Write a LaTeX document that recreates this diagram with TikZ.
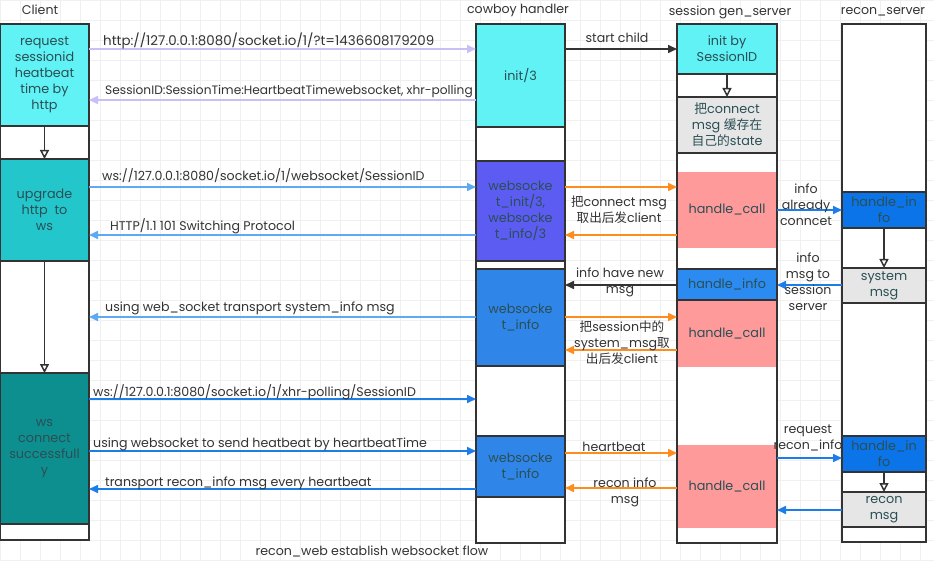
\documentclass[tikz,border=0pt]{standalone}
\usepackage{fontspec}
\setmainfont{Poppins}
\newfontfamily\cjk{Noto Sans CJK SC}
\newcommand\zh[1]{{\cjk #1}}
\usetikzlibrary{arrows.meta}
\definecolor{cyanbox}{HTML}{60F2F5}
\definecolor{tealA}{HTML}{22C6CB}
\definecolor{tealB}{HTML}{0E8F8F}
\definecolor{violet}{HTML}{5C5CF2}
\definecolor{wsblue}{HTML}{2F86E8}
\definecolor{hiblue}{HTML}{2B8BF0}
\definecolor{rblue}{HTML}{0B74E8}
\definecolor{pinkbox}{HTML}{FF9A9A}
\definecolor{graybox}{HTML}{E6E6E6}
\definecolor{lav}{HTML}{C8C0F4}
\definecolor{lblue}{HTML}{5EA9F2}
\definecolor{dblue}{HTML}{1C7CE8}
\definecolor{orng}{HTML}{FF8C1E}
\definecolor{dk}{HTML}{333333}
\definecolor{boxtext}{HTML}{2A4F55}
\tikzset{
  col/.style={draw=dk, line width=1.5pt, fill=white, anchor=north west, inner sep=0pt, outer sep=0pt},
  blk/.style={draw=dk, line width=1.5pt, anchor=north west, inner sep=0pt, outer sep=0pt,
              text=boxtext, align=center, font=\fontsize{12.8}{16}\selectfont},
  pk/.style={fill=pinkbox, anchor=north west, inner sep=0pt, outer sep=0pt,
              text=boxtext, align=center, font=\fontsize{12.8}{16}\selectfont},
  msg/.style={line width=1.6pt, -{Triangle[length=9pt,width=8pt]}},
  hol/.style={draw=dk, line width=1.5pt, -{Triangle[open,length=9pt,width=9pt]}},
  lbl/.style={text=dk, font=\fontsize{12.6}{16}\selectfont, inner sep=0pt},
  hdr/.style={text=dk, font=\fontsize{12.6}{14}\selectfont, inner sep=0pt},
}
\begin{document}
\begin{tikzpicture}[x=1pt,y=-1pt]
\useasboundingbox (0,0) rectangle (934,561);
\fill[white] (0,0) rectangle (934,561);
\draw[black!6, step=20pt] (0,0) grid (934,561);

% headers
\node[hdr] (hclient) at (40,10) {Client};
\node[hdr] (hcow) at (518,10) {cowboy handler};
\node[hdr] (hses) at (730,12) {session gen\_server};
\node[hdr] (hrec) at (883,12) {recon\_server};

% columns
\node[col, minimum width=89pt, minimum height=516pt] (ccol) at (0,24) {};
\node[col, minimum width=89pt, minimum height=519pt] (wcol) at (476,24) {};
\node[col, minimum width=100pt, minimum height=519pt] (scol) at (677,24) {};
\node[col, minimum width=84pt, minimum height=518pt] (rcol) at (842,24) {};

% client boxes
\node[blk, fill=cyanbox, minimum width=89pt, minimum height=102pt] (creq) at (0,24) {request\\sessionid\\heatbeat\\time by\\http};
\node[blk, fill=tealA, minimum width=89pt, minimum height=102pt] (cup) at (0,159) {upgrade\\http~ to\\ws};
\node[blk, fill=tealB, minimum width=89pt, minimum height=151pt] (cws) at (0,373) {ws\\connect\\successfull\\y};
\draw[hol] (creq.south) -- (cup.north);
\draw[hol] (cup.south) -- (cws.north);

% cowboy boxes
\node[blk, fill=cyanbox, minimum width=89pt, minimum height=103pt] (winit) at (476,24) {init/3};
\node[blk, fill=violet, minimum width=89pt, minimum height=100pt] (wwsi) at (476,161) {websocke\\t\_init/3,\\websocke\\t\_info/3};
\node[blk, fill=wsblue, minimum width=89pt, minimum height=97pt] (winfo) at (476,269) {websocke\\t\_info};
\node[blk, fill=wsblue, minimum width=89pt, minimum height=61pt] (winfob) at (476,436) {websocke\\t\_info};

% session boxes
\node[blk, fill=cyanbox, minimum width=100pt, minimum height=50pt] (sinit) at (677,24) {init by\\SessionID};
\node[blk, fill=graybox, minimum width=100pt, minimum height=56pt] (sgray) at (677,97) {\zh{把}connect\\msg \zh{缓存在}\\\zh{自己的}state};
\draw[hol] (sinit.south) -- (sgray.north);
\node[pk, minimum width=98pt, minimum height=76pt] (shc) at (678,172) {handle\_call};
\node[blk, fill=hiblue, minimum width=100pt, minimum height=31pt] (shi) at (677,269) {handle\_info};
\node[pk, minimum width=98pt, minimum height=66pt] (shcb) at (678,301) {handle\_call};
\node[pk, minimum width=98pt, minimum height=83pt] (shcc) at (678,445) {handle\_call};

% recon boxes
\node[blk, fill=rblue, minimum width=84pt, minimum height=36pt] (rhi) at (842,192) {handle\_in\\fo};
\node[blk, fill=graybox, minimum width=84pt, minimum height=35pt] (rsys) at (842,268) {system\\msg};
\draw[hol] (rhi.south) -- (rsys.north);
\node[blk, fill=rblue, minimum width=84pt, minimum height=36pt] (rhib) at (842,436) {handle\_in\\fo};
\node[blk, fill=graybox, minimum width=84pt, minimum height=35pt] (rmsg) at (842,492) {recon\\msg};
\draw[hol] (rhib.south) -- (rmsg.north);

% client <-> cowboy messages
\draw[msg, draw=lav] (ccol.east |- 0,49) -- (wcol.west |- 0,49);
\node[lbl, anchor=base west, font=\fontsize{13.4}{16}\selectfont] (l1) at (103,46) {http://127.0.0.1:8080/socket.io/1/?t=1436608179209};
\draw[msg, draw=lav] (wcol.west |- 0,100) -- (ccol.east |- 0,100);
\node[lbl, anchor=base west, font=\fontsize{12.2}{16}\selectfont] (l2) at (105,95) {SessionID:SessionTime:HeartbeatTimewebsocket, xhr-polling};
\draw[msg, draw=lblue] (ccol.east |- 0,187) -- (wcol.west |- 0,187);
\node[lbl, anchor=base west] (l3) at (102,181) {ws://127.0.0.1:8080/socket.io/1/websocket/SessionID};
\draw[msg, draw=lblue] (wcol.west |- 0,235) -- (ccol.east |- 0,235);
\node[lbl, anchor=base west] (l4) at (110,231) {HTTP/1.1 101 Switching Protocol};
\draw[msg, draw=lblue] (wcol.west |- 0,317) -- (ccol.east |- 0,317);
\node[lbl, anchor=base west] (l5) at (105,312) {using web\_socket transport system\_info msg};
\draw[msg, draw=dblue] (ccol.east |- 0,399) -- (wcol.west |- 0,399);
\node[lbl, anchor=base west] (l6) at (93,396) {ws://127.0.0.1:8080/socket.io/1/xhr-polling/SessionID};
\draw[msg, draw=dblue] (ccol.east |- 0,451) -- (wcol.west |- 0,451);
\node[lbl, anchor=base west] (l7) at (93,447) {using websocket to send heatbeat by heartbeatTime};
\draw[msg, draw=dblue] (wcol.west |- 0,489) -- (ccol.east |- 0,489);
\node[lbl, anchor=base west] (l8) at (105,486) {transport recon\_info msg every heartbeat};

% cowboy <-> session
\draw[msg, draw=dk] (wcol.east |- 0,49) -- (scol.west |- 0,49);
\node[lbl, anchor=base] (l9) at (617,43) {start child};
\draw[msg, draw=orng] (wcol.east |- 0,187) -- (scol.west |- 0,187);
\draw[msg, draw=orng] (scol.west |- 0,235) -- (wcol.east |- 0,235);
\node[lbl, align=center] (l10) at (619,210) {\zh{把}connect msg\\\zh{取出后发}client};
\draw[msg, draw=dk] (scol.west |- 0,285) -- (wcol.east |- 0,285);
\node[lbl, align=center] (l11) at (620,282) {info have new\\msg};
\draw[msg, draw=orng] (wcol.east |- 0,317) -- (scol.west |- 0,317);
\draw[msg, draw=orng] (scol.west |- 0,350) -- (wcol.east |- 0,350);
\node[lbl, align=center] (l12) at (622,343) {\zh{把}session\zh{中的}\\system\_msg\zh{取}\\\zh{出后发}client};
\draw[msg, draw=orng] (wcol.east |- 0,453) -- (scol.west |- 0,453);
\node[lbl, anchor=base] (l13) at (614,451) {heartbeat};
\draw[msg, draw=orng] (scol.west |- 0,488) -- (wcol.east |- 0,488);
\node[lbl, align=center] (l14) at (625,492) {recon info\\msg};

% session <-> recon
\draw[msg, draw=dblue] (scol.east |- 0,210) -- (rcol.west |- 0,210);
\node[lbl, align=center] (l15) at (806,205) {info\\already\\conncet};
\draw[msg, draw=dblue] (rcol.west |- 0,285) -- (scol.east |- 0,285);
\node[lbl, align=center] (l16) at (808,282) {info\\msg to\\session\\server};
\draw[msg, draw=dblue] (scol.east |- 0,458) -- (rcol.west |- 0,458);
\node[lbl, align=center] (l17) at (808,438) {request\\recon\_info};
\draw[msg, draw=dblue] (rcol.west |- 0,510) -- (scol.east |- 0,510);

% title
\node[lbl, anchor=base] (title) at (372,555) {recon\_web establish websocket flow};
\end{tikzpicture}
\end{document}
